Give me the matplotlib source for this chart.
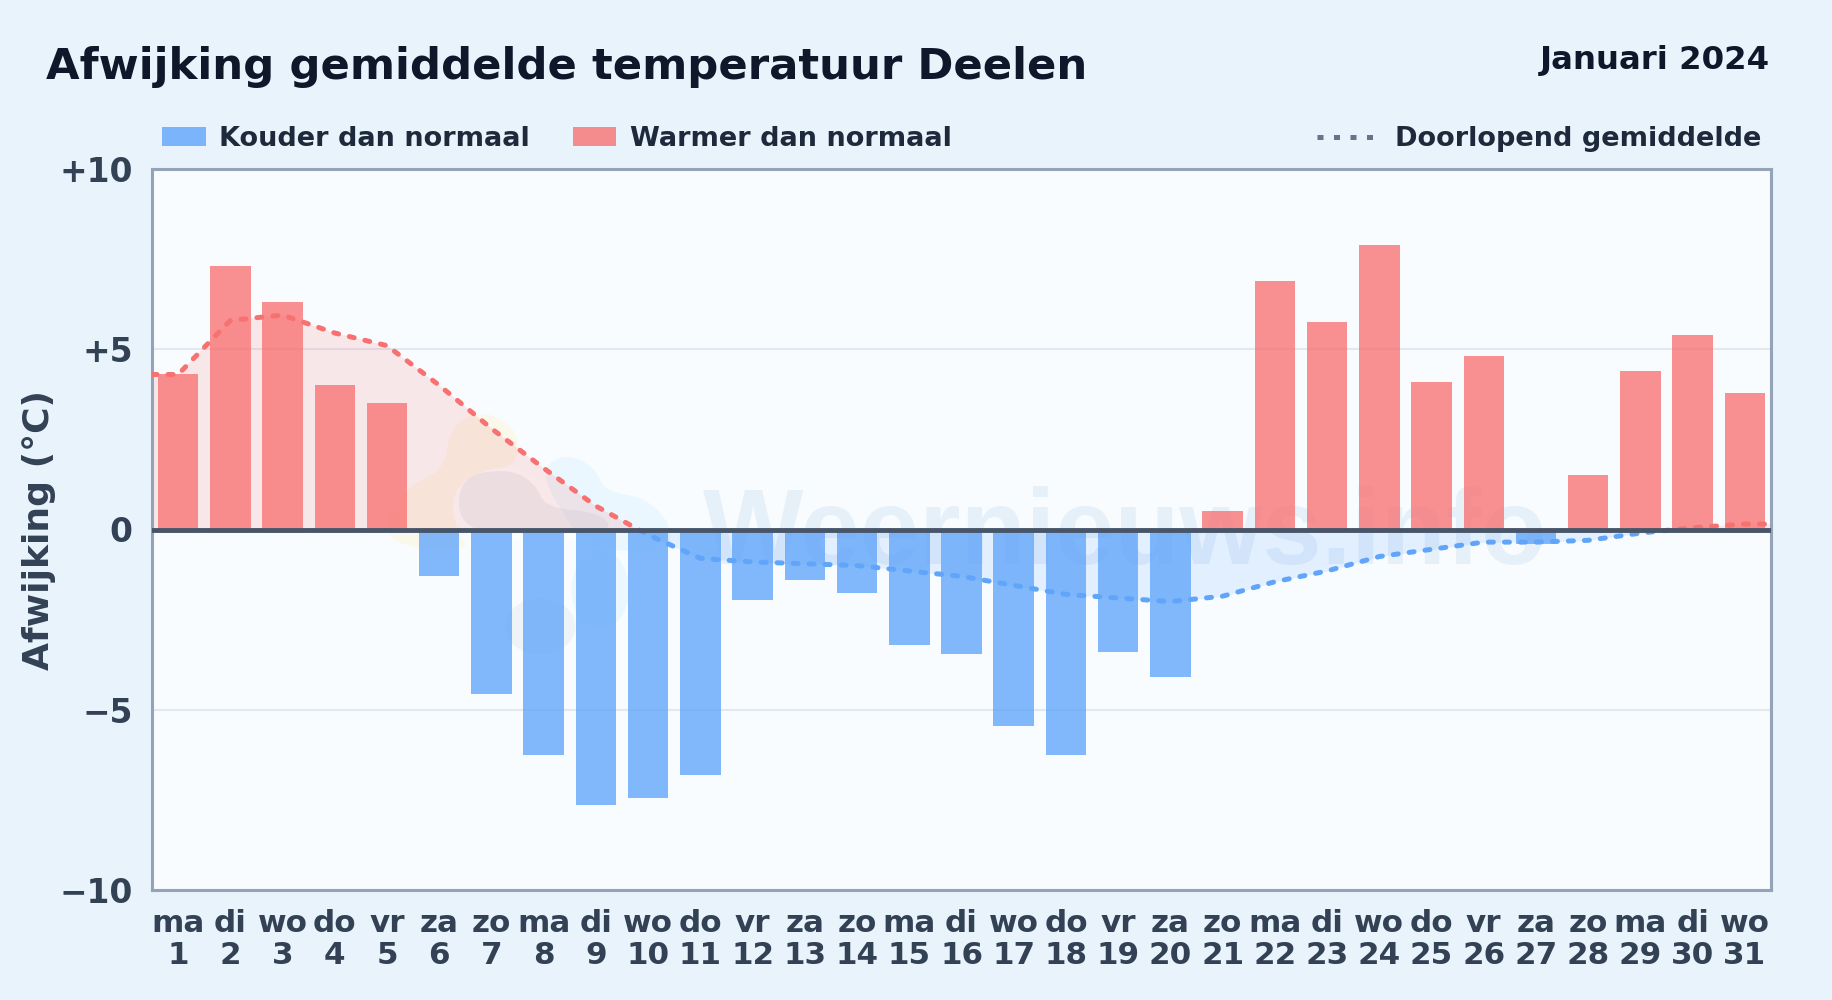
import matplotlib
matplotlib.use('Agg')
import matplotlib.pyplot as plt
from matplotlib.patches import Rectangle, Ellipse, PathPatch
from matplotlib.path import Path
from matplotlib.lines import Line2D
from matplotlib.transforms import IdentityTransform

days = list(range(1, 32))
weekdays = ['ma', 'di', 'wo', 'do', 'vr', 'za', 'zo'] * 4 + ['ma', 'di', 'wo']
anomaly = [4.3, 7.3, 6.3, 4.0, 3.5, -1.3, -4.55, -6.25, -7.65, -7.45, -6.8, -1.95, -1.4, -1.75, -3.2, -3.45,
           -5.45, -6.25, -3.4, -4.1, 0.5, 6.9, 5.75, 7.9, 4.1, 4.8, -0.4, 1.5, 4.4, 5.4, 3.8]
running = [4.3, 5.8, 5.95, 5.45, 5.1, 4.0, 2.8, 1.7, 0.65, -0.15, -0.8, -0.9, -0.95, -1.0, -1.15, -1.3,
           -1.55, -1.8, -1.9, -2.0, -1.85, -1.45, -1.15, -0.75, -0.55, -0.35, -0.35, -0.3, -0.1, 0.05, 0.15]
yticks = [-10, -5, 0, 5, 10]
ylabels = ['\u221210', '\u22125', '0', '+5', '+10']

RED = '#f87171'
BLUE = '#60a5fa'
TEXT = '#334155'


def blob(ax, pts, color, alpha):
    # rounded logo shape, pts in image pixels (y down)
    pts = [(x, 1000 - y) for x, y in pts]
    n = len(pts)
    mids = [((pts[i][0] + pts[(i + 1) % n][0]) / 2, (pts[i][1] + pts[(i + 1) % n][1]) / 2) for i in range(n)]
    verts = [mids[-1]]
    codes = [Path.MOVETO]
    for i in range(n):
        verts += [pts[i], mids[i]]
        codes += [Path.CURVE3, Path.CURVE3]
    ax.add_patch(PathPatch(Path(verts, codes), facecolor=color, alpha=alpha, lw=0, zorder=1,
                           transform=IdentityTransform()))


fig = plt.figure(figsize=(18.32, 10), dpi=100, facecolor='#e8f3fc')
ax = fig.add_axes([152 / 1832, 1 - 890 / 1000, (1771 - 152) / 1832, (890 - 169) / 1000], facecolor='#f8fcff')

# watermark
ax.text(11.05, -0.97, 'Weernieuws.info', fontsize=76.7, fontweight='bold', family='Liberation Sans',
        color='#c4d9ee', alpha=0.33, ha='left', va='baseline', zorder=1)
blob(ax, [(450, 425), (485, 410), (518, 430), (518, 466), (480, 470), (452, 490), (455, 530), (472, 550),
          (420, 550), (380, 535), (405, 487), (445, 470)], '#fdeeb0', 0.25)
blob(ax, [(450, 490), (500, 462), (545, 480), (570, 505), (615, 515), (625, 540), (540, 542), (455, 535)], '#ffffff', 0.4)
blob(ax, [(458, 478), (505, 468), (535, 482), (545, 508), (600, 512), (615, 532), (540, 534), (460, 532)], '#94a3b8', 0.14)
blob(ax, [(540, 470), (565, 453), (595, 467), (605, 492), (645, 497), (672, 525), (668, 552), (625, 552),
          (585, 545), (560, 510)], '#bae6fd', 0.22)
ax.add_patch(Ellipse(((540 - 152) / 52.2 + 0.5, (530 - 627) / 36.05), 1.35, 1.55, color='#cbd5e1', alpha=0.22, lw=0, zorder=1))
ax.add_patch(Ellipse(((600 - 152) / 52.2 + 0.5, (530 - 590) / 36.05), 1.1, 2.2, color='#bae6fd', alpha=0.2, lw=0, zorder=1))

ax.grid(axis='y', color='#e2e8f0', lw=1.5, zorder=1)
ax.set_axisbelow(True)

# running mean extended flat to the axes edges
x_line = [0.5] + days + [31.5]
y_line = [running[0]] + running + [running[-1]]
ax.fill_between(x_line, y_line, 0, where=[v >= 0 for v in y_line], interpolate=True, color=RED, alpha=0.15, lw=0, zorder=2)
ax.fill_between(x_line, y_line, 0, where=[v <= 0 for v in y_line], interpolate=True, color=BLUE, alpha=0.15, lw=0, zorder=2)

colors = [RED if v >= 0 else BLUE for v in anomaly]
ax.bar(days, anomaly, width=0.775, color=colors, alpha=0.78, lw=0, zorder=3)

warm, = ax.plot(x_line, y_line, color=RED, lw=3.6, dashes=(1.0, 2.2), dash_capstyle='round', zorder=4)
cold, = ax.plot(x_line, y_line, color=BLUE, lw=3.6, dashes=(1.0, 2.2), dash_capstyle='round', zorder=4)
warm.set_clip_path(Rectangle((0.5, 0), 31, 10, transform=ax.transData))
cold.set_clip_path(Rectangle((0.5, -10), 31, 10, transform=ax.transData))

ax.axhline(0, color='#475569', lw=3.5, zorder=5)

ax.set_xlim(0.5, 31.5)
ax.set_ylim(-10, 10)
ax.set_yticks(yticks, ylabels)
ax.set_xticks(days, [f'{w}\n{d}' for w, d in zip(weekdays, days)])
ax.tick_params(axis='x', length=0, labelcolor=TEXT, labelsize=22.3, pad=14)
ax.tick_params(axis='y', length=0, labelcolor=TEXT, labelsize=23.7, pad=14)
for lab in ax.get_xticklabels() + ax.get_yticklabels():
    lab.set_fontweight('bold')
for lab in ax.get_xticklabels():
    lab.set_linespacing(1.1)
for s in ax.spines.values():
    s.set_color('#94a3b8')
    s.set_linewidth(2.2)

fig.text(39.5 / 1832, 1 - 530 / 1000, 'Afwijking (°C)', rotation=90, fontsize=26, fontweight='bold',
         color=TEXT, ha='center', va='center')
fig.text(46 / 1832, 1 - 67 / 1000, 'Afwijking gemiddelde temperatuur Deelen', fontsize=31.25, fontweight='bold',
         color='#0f172a', ha='left', va='center')
fig.text(1770 / 1832, 1 - 61 / 1000, 'Januari 2024', fontsize=23.3, fontweight='bold',
         color='#0f172a', ha='right', va='center')

# legend, placed by hand to sit on the axes' top edge
fig.patches.append(Rectangle((162 / 1832, 1 - 146 / 1000), 44 / 1832, 19 / 1000, transform=fig.transFigure,
                             facecolor=BLUE, alpha=0.8, lw=0))
fig.patches.append(Rectangle((573 / 1832, 1 - 146 / 1000), 43 / 1832, 19 / 1000, transform=fig.transFigure,
                             facecolor=RED, alpha=0.8, lw=0))
fig.lines.append(Line2D([1317 / 1832, 1374 / 1832], [1 - 137 / 1000] * 2, transform=fig.transFigure,
                        color='#64748b', lw=3.6, dashes=(1.2, 2.1)))
fig.text(219 / 1832, 1 - 139 / 1000, 'Kouder dan normaal', fontsize=19.5, fontweight='bold', color='#1e293b', va='center')
fig.text(630 / 1832, 1 - 139 / 1000, 'Warmer dan normaal', fontsize=19.5, fontweight='bold', color='#1e293b', va='center')
fig.text(1395 / 1832, 1 - 139 / 1000, 'Doorlopend gemiddelde', fontsize=19.5, fontweight='bold', color='#1e293b', va='center')

fig.savefig('out.png', dpi=100, facecolor=fig.get_facecolor())
